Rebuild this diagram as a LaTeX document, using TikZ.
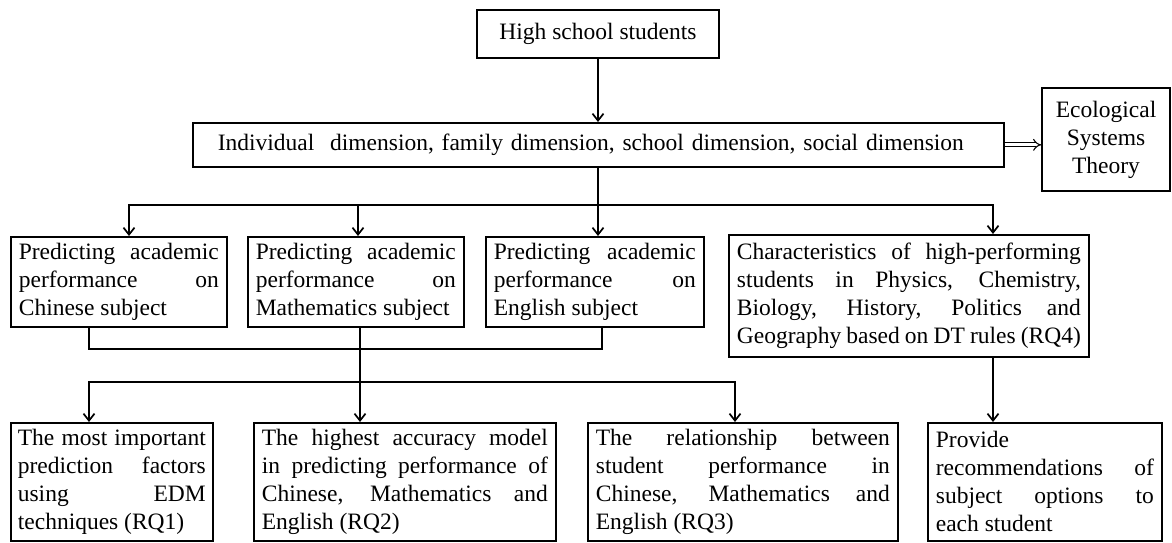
\documentclass[tikz,border=0pt]{standalone}
\usepackage{fontspec}
\setmainfont{Liberation Serif}
\usetikzlibrary{arrows.meta}
\hyphenpenalty=10000
\exhyphenpenalty=10000
\newcommand\diagfont{\fontsize{23.5}{28}\selectfont\tolerance=10000 \hbadness=10000\relax}
\begin{document}
\begin{tikzpicture}[x=1pt,y=-1pt,line width=1.7pt,line join=miter,
  box/.style={draw,line width=1.7pt,inner xsep=8pt,inner ysep=0pt,anchor=north west,font=\diagfont,align=justify},
  cbox/.style={draw,line width=1.7pt,inner sep=0pt,font=\diagfont,align=center},
  arr/.style={-{Straight Barb[length=7pt,width=11pt]}},
  arrtwo/.style={{Straight Barb[length=7pt,width=11pt]}-{Straight Barb[length=7pt,width=11pt]}},
  dbl/.style={double,double distance=3pt,line width=1.1pt,-{Implies}}]
\useasboundingbox (0,0) rectangle (1172,543);

% top
\node[cbox,minimum width=242pt,minimum height=48pt] (top) at (598,34) {High school students};
\node[draw,line width=1.7pt,anchor=north west,inner xsep=25pt,inner ysep=0pt,font=\diagfont,
  align=left,text width=761pt,minimum height=44pt] (dim) at (192,122)
  {Individual\ \ dimension, family dimension, school dimension, social dimension};
\node[cbox,minimum width=128pt,minimum height=103pt] (eco) at (1106,139.5) {Ecological\\Systems\\Theory};

% row 2
\node[box,text width=200pt,minimum height=90pt] (b1) at (10,236)
  {Predicting academic\linebreak performance on\linebreak Chinese subject};
\node[box,text width=200pt,minimum height=90pt] (b2) at (247,236)
  {Predicting academic\linebreak performance on\linebreak Mathematics subject};
\node[box,text width=202pt,minimum height=90pt] (b3) at (485,236)
  {Predicting academic\linebreak performance on\linebreak English subject};
\node[box,text width=344pt,minimum height=122pt] (b4) at (728,234)
  {Characteristics of high-performing\linebreak students in Physics, Chemistry,\linebreak Biology, History, Politics and\linebreak Geography based on DT rules (RQ4)};

% row 3
\node[box,text width=188pt,inner xsep=7pt,minimum height=118pt] (c1) at (10,422)
  {The most important\linebreak prediction factors\linebreak using EDM\linebreak techniques (RQ1)};
\node[box,text width=286pt,minimum height=118pt] (c2) at (253,422)
  {The highest accuracy model\linebreak in predicting performance of\linebreak Chinese, Mathematics and\linebreak English (RQ2)};
\node[box,text width=294pt,minimum height=118pt] (c3) at (587,422)
  {The relationship between\linebreak student performance in\linebreak Chinese, Mathematics and\linebreak English (RQ3)};
\node[box,text width=218pt,minimum height=118pt] (c4) at (927,422)
  {Provide\newline recommendations of\linebreak subject options to\linebreak each student};

% junction coordinates
\coordinate (h1L) at (129,205);
\coordinate (h1R) at (993,205);
\coordinate (a2) at (358,205);
\coordinate (a3) at (598,205);
\coordinate (k1) at (89,349);
\coordinate (k3) at (602,349);
\coordinate (m2) at (360,349);
\coordinate (g1) at (89,382);
\coordinate (g3) at (735,382);

% connectors
\draw[arr] (top.south) -- (top.south |- dim.north);
\draw[dbl] (dim.east) -- (dim.east -| eco.west);
\draw (dim.south -| a3) -- (a3);
\draw[arrtwo] (h1L |- b1.north) -- (h1L) -- (h1R) -- (h1R |- b4.north);
\draw[arr] (a2) -- (a2 |- b2.north);
\draw[arr] (a3) -- (a3 |- b3.north);

\draw (k1 |- b1.south) -- (k1) -- (k3) -- (k3 |- b3.south);
\draw[arr] (m2 |- b2.south) -- (m2 |- c2.north);
\draw[arrtwo] (g1 |- c1.north) -- (g1) -- (g3) -- (g3 |- c3.north);
\draw[arr] (h1R |- b4.south) -- (h1R |- c4.north);
\end{tikzpicture}
\end{document}
